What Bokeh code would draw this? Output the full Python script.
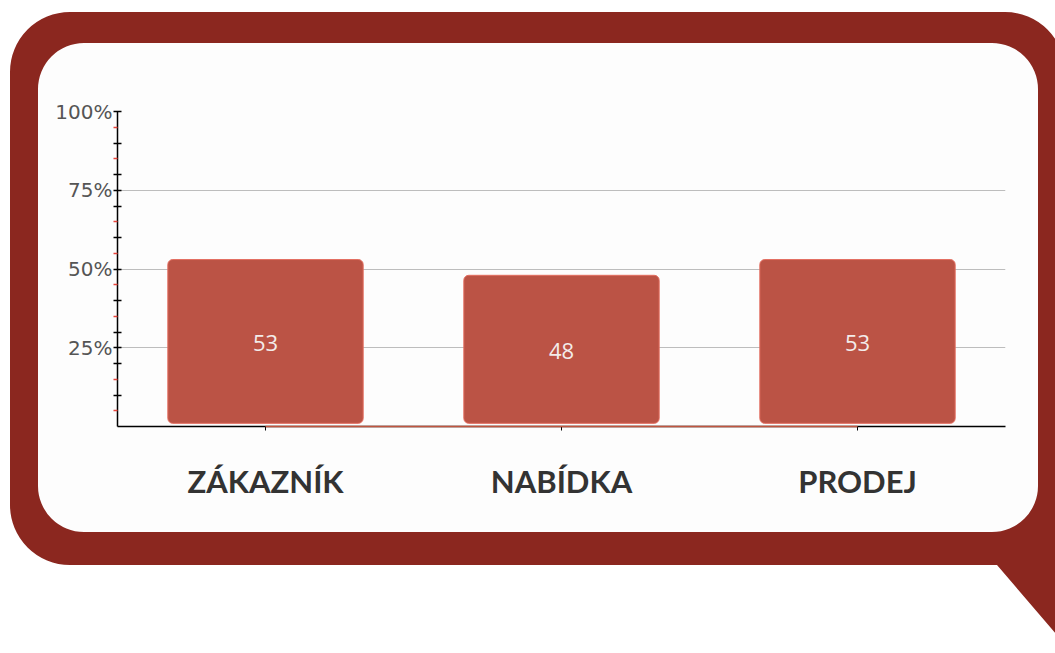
from urllib.parse import quote
from bokeh.plotting import figure
from bokeh.models import FactorRange, Range1d, FixedTicker
from bokeh.core.properties import value
from bokeh.embed import file_html
from bokeh.resources import INLINE

# ---- data ----
categories = ["ZÁKAZNÍK", "NABÍDKA", "PRODEJ"]
values = [53, 48, 53]
value_labels = ["53", "48", "53"]
y_label_ticks = [25, 50, 75, 100]
y_label_texts = ["25%", "50%", "75%", "100%"]

W, H = 1055, 653
FL, FR, FT, FB = 117, 1005, 111, 426  # frame edges in page pixels

p = figure(
    x_range=FactorRange(*categories, range_padding=0),
    y_range=Range1d(0, 100),
    width=W, height=H,
    output_backend="svg", toolbar_location=None,
    min_border_left=FL, min_border_right=W - FR,
    min_border_top=FT, min_border_bottom=H - FB,
    background_fill_color=None, border_fill_color=None,
    outline_line_color=None,
)

# decorative speech-bubble frame behind the canvas (pure decoration)
RED = "#8b271f"
bubble_svg = (
    f"<svg xmlns='http://www.w3.org/2000/svg' width='{W}' height='{H}' viewBox='0 0 {W} {H}'>"
    f"<rect width='{W}' height='{H}' fill='#ffffff'/>"
    f"<rect x='38' y='43' width='1000' height='489' rx='46' fill='#fdfdfd'/>"
    f"<path fill-rule='evenodd' fill='{RED}' d='"
    "M70,12 H1005 A60,60 0 0 1 1065,72 V565 H70 "
    "A60,60 0 0 1 10,505 V72 A60,60 0 0 1 70,12 Z "
    "M84,43 H992 A46,46 0 0 1 1038,89 V486 A46,46 0 0 1 992,532 H84 "
    "A46,46 0 0 1 38,486 V89 A46,46 0 0 1 84,43 Z'/>"
    f"<polygon fill='{RED}' points='985,560 997,565 1075,656 1075,560'/>"
    "</svg>"
)
p.styles = {
    "background-image": f'url("data:image/svg+xml,{quote(bubble_svg)}")',
    "background-repeat": "no-repeat",
    "background-size": f"{W}px {H}px",
}

# grid
p.xgrid.visible = False
p.ygrid.ticker = FixedTicker(ticks=[25, 50, 75])
p.ygrid.grid_line_color = "#bdbdbd"
p.ygrid.grid_line_width = 1

# bars
p.vbar(x=categories, top=values, bottom=1, width=0.66,
       fill_color="#bb5345", line_color="#e36e60", line_width=1,
       border_radius=5)

p.text(x=categories, y=[v / 2 for v in values], text=value_labels,
       text_align="center", text_baseline="middle",
       text_color="#f3ecea", text_font_size="22px",
       text_font=value("Open Sans"))

# reddish part of the base line
seg = p.segment(x0=[categories[0]], y0=[0], x1=[categories[2]], y1=[0],
                line_color="#c0553f", line_width=1.5)
seg.level = "overlay"

# y axis
yt = [10, 20, 25, 30, 40, 50, 60, 70, 75, 80, 90, 100]
minor = [5, 15, 35, 45, 55, 65, 85, 95]
yax = p.yaxis[0]
yax.ticker = FixedTicker(ticks=yt, minor_ticks=minor)
overrides = {t: "" for t in yt}
for t, s in zip(y_label_ticks, y_label_texts):
    overrides[t] = s
yax.major_label_overrides = overrides
yax.axis_line_color = "black"
yax.axis_line_width = 1.5
yax.major_tick_in = 4
yax.major_tick_out = 4
yax.major_tick_line_color = "black"
yax.major_tick_line_width = 1.5
yax.minor_tick_in = 0
yax.minor_tick_out = 4
yax.minor_tick_line_color = "#e8453c"
yax.minor_tick_line_width = 1.5
yax.major_label_text_font = "DejaVu Sans"
yax.major_label_text_font_size = "20px"
yax.major_label_text_color = "#555555"
yax.major_label_standoff = 1

# x axis
xax = p.xaxis[0]
xax.axis_line_color = "black"
xax.axis_line_width = 1.5
xax.major_tick_in = 0
xax.major_tick_out = 4
xax.major_tick_line_color = "black"
xax.minor_tick_line_color = None
xax.major_label_text_font = "Lato"
xax.major_label_text_font_style = "bold"
xax.major_label_text_font_size = "31px"
xax.major_label_text_color = "#333333"
xax.major_label_standoff = 31

open("out.html", "w").write(file_html(p, INLINE))
